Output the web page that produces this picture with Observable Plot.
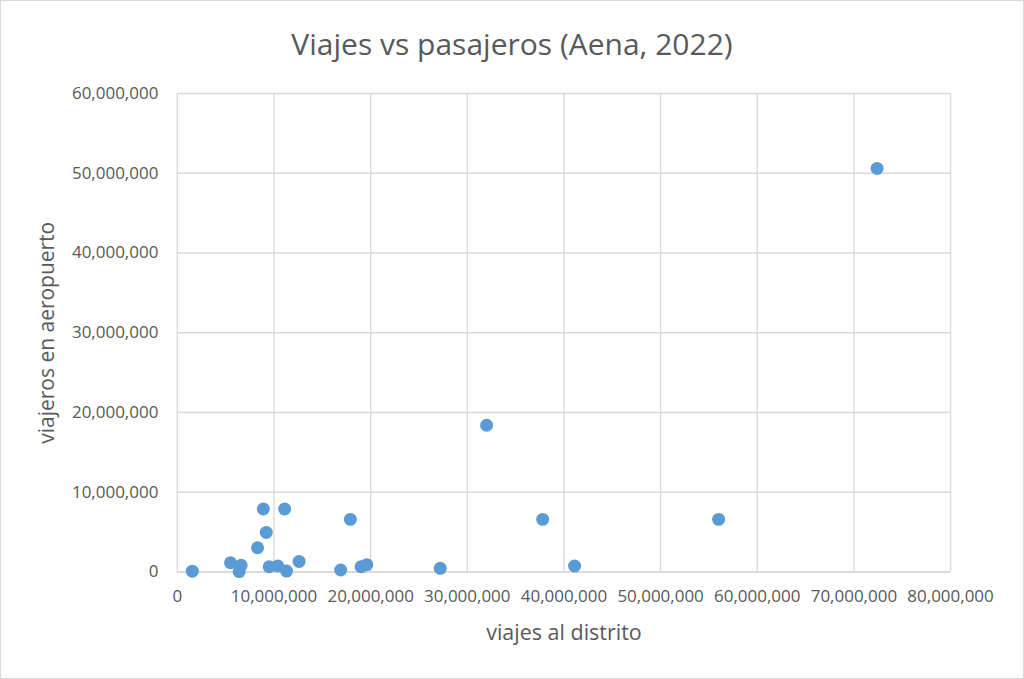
<!DOCTYPE html>
<html>
<head>
<meta charset="utf-8">
<script src="https://cdn.jsdelivr.net/npm/d3@7"></script>
<script src="https://cdn.jsdelivr.net/npm/@observablehq/plot@0.6"></script>
<style>
  html, body { margin: 0; padding: 0; background: #fff; }
  #wrap { position: relative; width: 1022px; height: 677px; border: 1px solid #d9d9d9; overflow: hidden; font-family: "Open Sans", sans-serif; }
  #title { position: absolute; left: 0; top: 0; width: 1022px; height: 79px; text-align: center; line-height: 86px; font-size: 30px; color: #595959; }
  #chart { position: absolute; left: -1px; top: 79px; }
</style>
</head>
<body>
<div id="wrap">
  <div id="title">Viajes vs pasajeros (Aena, 2022)</div>
  <div id="chart"></div>
</div>
<script>
const titleText = "Viajes vs pasajeros (Aena, 2022)";
const xLabel = "viajes al distrito";
const yLabel = "viajeros en aeropuerto";
const xTicks = [0, 10000000, 20000000, 30000000, 40000000, 50000000, 60000000, 70000000, 80000000];
const yTicks = [0, 10000000, 20000000, 30000000, 40000000, 50000000, 60000000];
// viajes al distrito
const viajes = [1550000, 5500000, 6600000, 6400000, 8300000, 8900000, 9200000, 9500000, 10400000, 11100000, 11300000, 12600000, 17900000, 16900000, 19000000, 19600000, 27200000, 32000000, 37800000, 41100000, 56000000, 72400000];
// viajeros en aeropuerto
const viajeros = [100000, 1160000, 840000, 50000, 3040000, 7900000, 4960000, 660000, 750000, 7900000, 120000, 1330000, 6600000, 250000, 660000, 920000, 460000, 18400000, 6600000, 750000, 6600000, 50600000];

const data = viajes.map((v, i) => ({x: v, y: viajeros[i]}));
const fmt = d3.format(",");

const plot = Plot.plot({
  width: 1024,
  height: 598,
  marginLeft: 177,
  marginRight: 73,
  marginTop: 13,
  marginBottom: 106,
  style: {fontFamily: "Open Sans, sans-serif", fontSize: "17px", color: "#595959", background: "transparent"},
  x: {domain: [0, 80000000], ticks: xTicks, tickFormat: fmt, label: null},
  y: {domain: [0, 60000000], ticks: yTicks, tickFormat: fmt, label: null},
  marks: [
    Plot.gridX(xTicks, {stroke: "#d9d9d9", strokeOpacity: 1, strokeWidth: 1.3}),
    Plot.gridY(yTicks, {stroke: "#d9d9d9", strokeOpacity: 1, strokeWidth: 1.3}),
    Plot.axisX({ticks: xTicks, tickFormat: fmt, tickSize: 0, tickPadding: 18, fill: "#595959", fontSize: 17, label: null}),
    Plot.axisY({ticks: yTicks, tickFormat: fmt, tickSize: 0, tickPadding: 19, fill: "#595959", fontSize: 17, label: null}),
    Plot.ruleY([0], {stroke: "#d9d9d9", strokeWidth: 1.3}),
    Plot.text([xLabel], {frameAnchor: "bottom", dy: 68, text: d => d, fontSize: 21.5, fill: "#595959"}),
    Plot.text([yLabel], {frameAnchor: "left", textAnchor: "middle", dx: -130, rotate: -90, text: d => d, fontSize: 21, fill: "#595959"}),
    Plot.dot(data, {x: "x", y: "y", r: 6.5, fill: "#5b9bd5", stroke: "none", clip: false})
  ]
});
document.getElementById("chart").appendChild(plot);
</script>
</body>
</html>
